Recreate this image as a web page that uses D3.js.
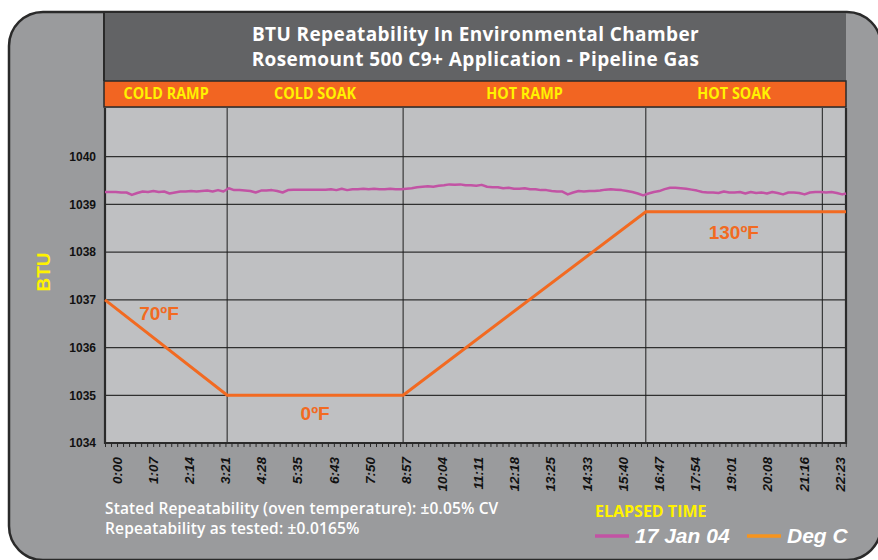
<!DOCTYPE html>
<html>
<head>
<meta charset="utf-8">
<script src="https://cdn.jsdelivr.net/npm/d3@7"></script>
<style>
  body { margin: 0; background: #fff; }
  svg { display: block; }
</style>
</head>
<body>
<div class="chart"></div>
<script>
// elapsed minutes for the BTU readings (one every 10 min)
let btuMinutes = d3.range(0, 1371, 10).concat([1377]);
let btuValues = [
  1039.26, 1039.26, 1039.26, 1039.25, 1039.25, 1039.20, 1039.24, 1039.27, 1039.26, 1039.28,
  1039.26, 1039.27, 1039.23, 1039.25, 1039.27, 1039.27, 1039.28, 1039.27, 1039.28, 1039.29,
  1039.27, 1039.30, 1039.27, 1039.34, 1039.30, 1039.30, 1039.29, 1039.28, 1039.25, 1039.29,
  1039.29, 1039.30, 1039.28, 1039.25, 1039.30, 1039.31, 1039.31, 1039.31, 1039.31, 1039.31,
  1039.31, 1039.31, 1039.32, 1039.30, 1039.33, 1039.30, 1039.32, 1039.32, 1039.33, 1039.32,
  1039.33, 1039.32, 1039.32, 1039.33, 1039.32, 1039.32, 1039.33, 1039.34, 1039.36, 1039.37,
  1039.38, 1039.37, 1039.39, 1039.40, 1039.42, 1039.41, 1039.42, 1039.40, 1039.40, 1039.39,
  1039.41, 1039.37, 1039.36, 1039.36, 1039.34, 1039.35, 1039.33, 1039.33, 1039.34, 1039.32,
  1039.32, 1039.30, 1039.30, 1039.28, 1039.27, 1039.27, 1039.21, 1039.25, 1039.28, 1039.27,
  1039.28, 1039.28, 1039.29, 1039.31, 1039.32, 1039.31, 1039.30, 1039.28, 1039.26, 1039.23,
  1039.19, 1039.23, 1039.26, 1039.28, 1039.32, 1039.35, 1039.35, 1039.34, 1039.33, 1039.31,
  1039.29, 1039.26, 1039.25, 1039.25, 1039.24, 1039.27, 1039.25, 1039.25, 1039.26, 1039.23,
  1039.26, 1039.24, 1039.25, 1039.23, 1039.26, 1039.24, 1039.21, 1039.25, 1039.25, 1039.24,
  1039.21, 1039.25, 1039.26, 1039.26, 1039.25, 1039.26, 1039.24, 1039.21, 1039.23
];

// oven temperature profile (Deg C)
let tempMinutes = [0, 227, 554, 1005, 1377];
let tempValues = [21, -18, -18, 57, 57];

// phases and the vertical lines between them
let phaseNames = ['COLD RAMP', 'COLD SOAK', 'HOT RAMP', 'HOT SOAK'];
let phaseBounds = [0, 227, 554, 1005, 1333];

let tickMinutes = [0, 67, 134, 201, 268, 335, 403, 470, 537, 604, 671,
  738, 805, 873, 940, 1007, 1074, 1141, 1208, 1276, 1343];
let tickLabels = ['0:00', '1:07', '2:14', '3:21', '4:28', '5:35', '6:43', '7:50', '8:57', '10:04', '11:11',
  '12:18', '13:25', '14:33', '15:40', '16:47', '17:54', '19:01', '20:08', '21:16', '22:23'];
let btuTicks = [1034, 1035, 1036, 1037, 1038, 1039, 1040];

let tempNotes = [
  {text: '70ºF', i: 0, dx: 54, dy: 20},
  {text: '0ºF', i: 1, dx: 88, dy: 25},
  {text: '130ºF', i: 3, dx: 88, dy: 27}
];

let fullWidth = 878;
let fullHeight = 560;
let plot = {left: 105, right: 846, top: 108, bottom: 443};

let purple = '#c253a4';
let orange = '#f26a21';
let yellow = '#fff200';
let semi = '"Open Sans", "Noto Sans", sans-serif';
let arial = '"Liberation Sans", Arial, sans-serif';

let svg = d3.select('.chart')
  .append('svg')
    .attr('width', fullWidth)
    .attr('height', fullHeight);

let xScale = d3.scaleLinear()
  .domain([0, 1377])
  .range([plot.left, plot.right]);

let yScale = d3.scaleLinear()
  .domain([1034, 1041])
  .range([plot.bottom, 109]);

// temperature rides on its own hidden scale, lined up with the BTU grid
let tScale = d3.scaleLinear()
  .domain([-18, 21])
  .range([yScale(1035), yScale(1037)]);

// outer rounded frame
svg.append('rect')
  .attr('x', 9).attr('y', 12)
  .attr('width', 872).attr('height', 548)
  .attr('rx', 34)
  .style('fill', '#9a9b9d')
  .style('stroke', '#2a2a2a')
  .style('stroke-width', 2.5);

// title banner
svg.append('rect')
  .attr('x', plot.left - 1).attr('y', 13)
  .attr('width', plot.right - plot.left + 1).attr('height', 68)
  .style('fill', '#626365');
svg.append('line')
  .attr('x1', plot.left - 1).attr('x2', plot.left - 1)
  .attr('y1', 12).attr('y2', 81)
  .style('stroke', '#2a2a2a').style('stroke-width', 2);

let title = svg.append('text')
  .attr('text-anchor', 'middle')
  .style('font-family', semi)
  .style('font-weight', 700)
  .style('font-size', '19px')
  .style('letter-spacing', '0.4px')
  .style('fill', '#fff');
title.append('tspan').attr('x', (plot.left + plot.right) / 2).attr('y', 41)
  .text('BTU Repeatability In Environmental Chamber');
title.append('tspan').attr('x', (plot.left + plot.right) / 2).attr('y', 66)
  .text('Rosemount 500 C9+ Application - Pipeline Gas');

// phase band
svg.append('rect')
  .attr('x', plot.left - 1).attr('y', 81)
  .attr('width', plot.right - plot.left + 1).attr('height', 26)
  .style('fill', '#f26522')
  .style('stroke', '#2a2a2a')
  .style('stroke-width', 1.5);

svg.selectAll('.phase')
  .data(phaseNames)
  .enter().append('text')
    .attr('class', 'phase')
    .attr('transform', (d, i) =>
      `translate(${(xScale(phaseBounds[i]) + xScale(phaseBounds[i + 1])) / 2}, 99) scale(0.9, 1)`)
    .attr('text-anchor', 'middle')
    .style('font-family', semi)
    .style('font-weight', 'bold')
    .style('font-size', '16px')
    .style('fill', yellow)
    .text(d => d);

// plot background
svg.append('rect')
  .attr('x', plot.left).attr('y', plot.top)
  .attr('width', plot.right - plot.left).attr('height', plot.bottom - plot.top)
  .style('fill', '#bfc0c2');

// horizontal grid
svg.selectAll('.hgrid')
  .data(btuTicks.slice(1))
  .enter().append('line')
    .attr('x1', plot.left).attr('x2', plot.right)
    .attr('y1', d => yScale(d)).attr('y2', d => yScale(d))
    .style('stroke', '#303030')
    .style('stroke-width', 1.2);

// phase divider lines
svg.selectAll('.vgrid')
  .data(phaseBounds.slice(1))
  .enter().append('line')
    .attr('x1', d => xScale(d)).attr('x2', d => xScale(d))
    .attr('y1', plot.top).attr('y2', plot.bottom)
    .style('stroke', '#1e1e1e')
    .style('stroke-width', 1);

// plot border (left, bottom, right)
svg.append('path')
  .attr('d', `M${plot.left},${plot.top}V${plot.bottom}H${plot.right}V${plot.top}`)
  .style('fill', 'none')
  .style('stroke', '#2a2a2a')
  .style('stroke-width', 2.2);

// BTU trace
let line = d3.line()
  .x((d, i) => xScale(btuMinutes[i]))
  .y(d => yScale(d));

svg.append('path')
  .datum(btuValues)
  .attr('d', line)
  .style('fill', 'none')
  .style('stroke', purple)
  .style('stroke-width', 2.5)
  .style('stroke-linejoin', 'round');

// temperature profile
let tempLine = d3.line()
  .x((d, i) => xScale(tempMinutes[i]))
  .y(d => tScale(d));

svg.append('path')
  .datum(tempValues)
  .attr('d', tempLine)
  .style('fill', 'none')
  .style('stroke', orange)
  .style('stroke-width', 3);

svg.selectAll('.note')
  .data(tempNotes)
  .enter().append('text')
    .attr('x', d => xScale(tempMinutes[d.i]) + d.dx)
    .attr('y', d => tScale(tempValues[d.i]) + d.dy)
    .attr('text-anchor', 'middle')
    .style('font-family', arial)
    .style('font-weight', 'bold')
    .style('font-size', '19px')
    .style('fill', orange)
    .text(d => d.text);

// y axis
let yAxis = d3.axisLeft(yScale)
  .tickValues(btuTicks)
  .tickFormat(d3.format('d'))
  .tickSize(0)
  .tickPadding(9);
let yg = svg.append('g')
  .attr('transform', `translate(${plot.left}, 0)`)
  .call(yAxis);
yg.select('.domain').remove();
yg.selectAll('text')
  .style('font-family', arial)
  .style('font-weight', 'bold')
  .style('font-size', '12px')
  .style('fill', '#111');

svg.append('text')
  .attr('transform', 'translate(50, 272) rotate(-90)')
  .attr('text-anchor', 'middle')
  .style('font-family', arial)
  .style('font-weight', 'bold')
  .style('font-size', '19px')
  .style('fill', yellow)
  .text('BTU');

// x axis: small ticks
let minorTicks = d3.range(0, 1378, 67.15 / 6);
let xMinor = d3.axisBottom(xScale)
  .tickValues(minorTicks)
  .tickFormat('')
  .tickSize(4)
  .tickSizeOuter(0);
let xmg = svg.append('g')
  .attr('transform', `translate(0, ${plot.bottom})`)
  .call(xMinor);
xmg.select('.domain').remove();
xmg.selectAll('line').style('stroke', '#2a2a2a');

// x axis: rotated time labels
let xAxis = d3.axisBottom(xScale)
  .tickValues(tickMinutes)
  .tickFormat((d, i) => tickLabels[i])
  .tickSize(0);
let xg = svg.append('g')
  .attr('transform', `translate(0, ${plot.bottom})`)
  .call(xAxis);
xg.select('.domain').remove();
xg.selectAll('text')
  .attr('transform', 'rotate(-90)')
  .attr('x', -14)
  .attr('y', 12)
  .attr('dy', '0.35em')
  .attr('text-anchor', 'end')
  .style('font-family', arial)
  .style('font-weight', 'bold')
  .style('font-style', 'italic')
  .style('font-size', '13.5px')
  .style('fill', '#111');

// footnotes
let notes = svg.append('text')
  .style('font-family', semi)
  .style('font-weight', 600)
  .style('font-size', '15.5px')
  .style('letter-spacing', '0.15px')
  .style('fill', '#fff');
notes.append('tspan').attr('x', plot.left).attr('y', 514)
  .text('Stated Repeatability (oven temperature): ±0.05% CV');
notes.append('tspan').attr('x', plot.left).attr('y', 534)
  .text('Repeatability as tested: ±0.0165%');

svg.append('text')
  .attr('x', 595).attr('y', 517)
  .style('font-family', semi)
  .style('font-weight', 700)
  .style('font-size', '16px')
  .style('fill', yellow)
  .text('ELAPSED TIME');

// legend
let legendItems = [
  {label: '17 Jan 04', color: purple, x: 595},
  {label: 'Deg C', color: '#f7941d', x: 747}
];
let legend = svg.selectAll('.legend')
  .data(legendItems)
  .enter().append('g')
    .attr('transform', d => `translate(${d.x}, 536)`);
legend.append('line')
  .attr('x1', 0).attr('x2', 34)
  .style('stroke', d => d.color)
  .style('stroke-width', 3.5);
legend.append('text')
  .attr('x', 40).attr('y', 7)
  .style('font-family', arial)
  .style('font-weight', 'bold')
  .style('font-style', 'italic')
  .style('font-size', '21px')
  .style('fill', '#fff')
  .text(d => d.label);
</script>
</body>
</html>
